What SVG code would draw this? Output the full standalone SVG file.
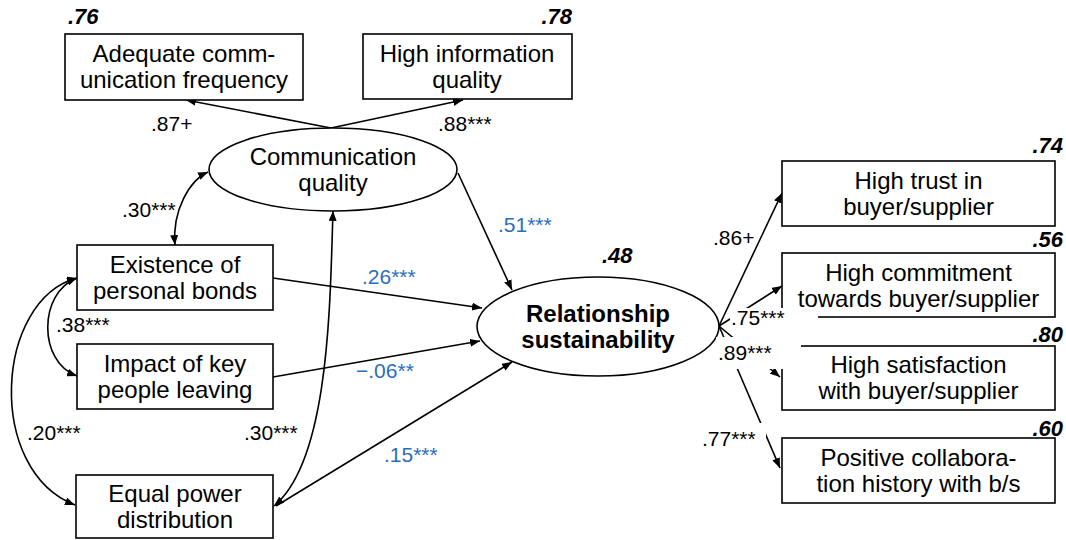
<svg xmlns="http://www.w3.org/2000/svg" width="1066" height="540" viewBox="0 0 1066 540">
<style>
.box{fill:#fff;stroke:#000;stroke-width:1.6}
.ell{fill:#fff;stroke:#000;stroke-width:1.6}
.t{font-family:"Liberation Sans",Arial,sans-serif;font-size:24px;fill:#000;text-anchor:middle}
.tb{font-family:"Liberation Sans",Arial,sans-serif;font-size:24px;font-weight:bold;fill:#000;text-anchor:middle}
.r2{font-family:"Liberation Sans",Arial,sans-serif;font-size:22px;font-weight:bold;font-style:italic;fill:#000}
.lb{font-family:"Liberation Sans",Arial,sans-serif;font-size:21px;fill:#000}
.bl{font-family:"Liberation Sans",Arial,sans-serif;font-size:21px;fill:#2a6ebb}
.c{fill:none;stroke:#000;stroke-width:1.6}
.bg{fill:#fff;stroke:none}
</style>
<defs>
<marker id="ah" viewBox="0 0 10 8" refX="10" refY="4" markerWidth="10" markerHeight="8" markerUnits="userSpaceOnUse" orient="auto-start-reverse"><path d="M0,0 L10,4 L0,8 z" fill="#000"/></marker>
</defs>

<g id="connectors">
<path class="c" d="M331 128 L186 100" marker-end="url(#ah)"/>
<path class="c" d="M331 128 L463 100" marker-end="url(#ah)"/>
<path class="c" d="M208 172 C190 180,172 210,175 245" marker-start="url(#ah)" marker-end="url(#ah)"/>
<path class="c" d="M458 173 L512 290" marker-end="url(#ah)"/>
<path class="c" d="M273 278 L482 308" marker-end="url(#ah)"/>
<path class="c" d="M273 377 L480 341" marker-end="url(#ah)"/>
<path class="c" d="M276 506 L512 362" marker-end="url(#ah)"/>
<path class="c" d="M333 211 C330 300,330 460,274 506" marker-start="url(#ah)" marker-end="url(#ah)"/>
<path class="c" d="M77 278 C38 293,38 362,77 376" marker-start="url(#ah)" marker-end="url(#ah)"/>
<path class="c" d="M77 278 C-5 300,-15 470,75 505" marker-start="url(#ah)" marker-end="url(#ah)"/>
<path class="c" d="M719 326 L782 193" marker-end="url(#ah)"/>
<path class="c" d="M719 326 L782 286" marker-end="url(#ah)"/>
<path class="c" d="M719 326 L780 377" marker-end="url(#ah)"/>
<path class="c" d="M719 326 L780 468" marker-end="url(#ah)"/>
</g>

<g id="n-adequate">
<rect class="box" x="65" y="34" width="238" height="66"/>
<text class="t" x="184" y="62">Adequate comm-</text>
<text class="t" x="184" y="88">unication frequency</text>
<text class="r2" x="68" y="24">.76</text>
</g>
<g id="n-highinfo">
<rect class="box" x="363" y="34" width="209" height="65"/>
<text class="t" x="467" y="62">High information</text>
<text class="t" x="467" y="88">quality</text>
<text class="r2" x="572" y="24" text-anchor="end">.78</text>
</g>
<g id="n-comm">
<ellipse class="ell" cx="333" cy="169.5" rx="124" ry="41.5"/>
<text class="t" x="333" y="165">Communication</text>
<text class="t" x="333" y="191">quality</text>
</g>
<g id="n-exist">
<rect class="box" x="77" y="245" width="196" height="65"/>
<text class="t" x="175" y="273">Existence of</text>
<text class="t" x="175" y="299">personal bonds</text>
</g>
<g id="n-impact">
<rect class="box" x="77" y="344" width="196" height="65"/>
<text class="t" x="175" y="372">Impact of key</text>
<text class="t" x="175" y="398">people leaving</text>
</g>
<g id="n-equal">
<rect class="box" x="76" y="475" width="197" height="63"/>
<text class="t" x="175" y="502">Equal power</text>
<text class="t" x="175" y="528">distribution</text>
</g>
<g id="n-rel">
<ellipse class="ell" cx="598" cy="326.5" rx="121" ry="49.5"/>
<text class="tb" x="598" y="322">Relationship</text>
<text class="tb" x="598" y="348">sustainability</text>
<text class="r2" x="602" y="263">.48</text>
</g>
<g id="n-trust">
<rect class="box" x="782" y="161" width="273" height="65"/>
<text class="t" x="918.5" y="189">High trust in</text>
<text class="t" x="918.5" y="215">buyer/supplier</text>
<text class="r2" x="1063" y="153" text-anchor="end">.74</text>
</g>
<g id="n-commit">
<rect class="box" x="782" y="253" width="273" height="64"/>
<text class="t" x="918.5" y="280.5">High commitment</text>
<text class="t" x="918.5" y="306.5">towards buyer/supplier</text>
<text class="r2" x="1063" y="247" text-anchor="end">.56</text>
</g>
<g id="n-satis">
<rect class="box" x="782" y="346" width="273" height="64"/>
<text class="t" x="918.5" y="373">High satisfaction</text>
<text class="t" x="918.5" y="399">with buyer/supplier</text>
<text class="r2" x="1063" y="342" text-anchor="end">.80</text>
</g>
<g id="n-positive">
<rect class="box" x="782" y="438" width="273" height="65"/>
<text class="t" x="918.5" y="466">Positive collabora-</text>
<text class="t" x="918.5" y="492">tion history with b/s</text>
<text class="r2" x="1063" y="436" text-anchor="end">.60</text>
</g>

<g id="labels">
<text class="lb" x="151" y="131">.87+</text>
<text class="lb" x="438" y="131">.88***</text>
<text class="lb" x="122" y="217">.30***</text>
<text class="bl" x="498" y="232">.51***</text>
<text class="bl" x="362" y="284">.26***</text>
<text class="lb" x="56" y="332">.38***</text>
<text class="bl" x="356" y="378">−.06**</text>
<text class="lb" x="27" y="440">.20***</text>
<text class="lb" x="244" y="440">.30***</text>
<text class="bl" x="384" y="462">.15***</text>
<text class="lb" x="713" y="245">.86+</text>
<rect class="bg" x="730" y="308" width="88" height="23"/>
<text class="lb" x="731" y="325">.75***</text>
<rect class="bg" x="716" y="337" width="85" height="32"/>
<text class="lb" x="718" y="360">.89***</text>
<rect class="bg" x="700" y="423" width="66" height="29"/>
<text class="lb" x="702" y="446">.77***</text>
</g>
</svg>
